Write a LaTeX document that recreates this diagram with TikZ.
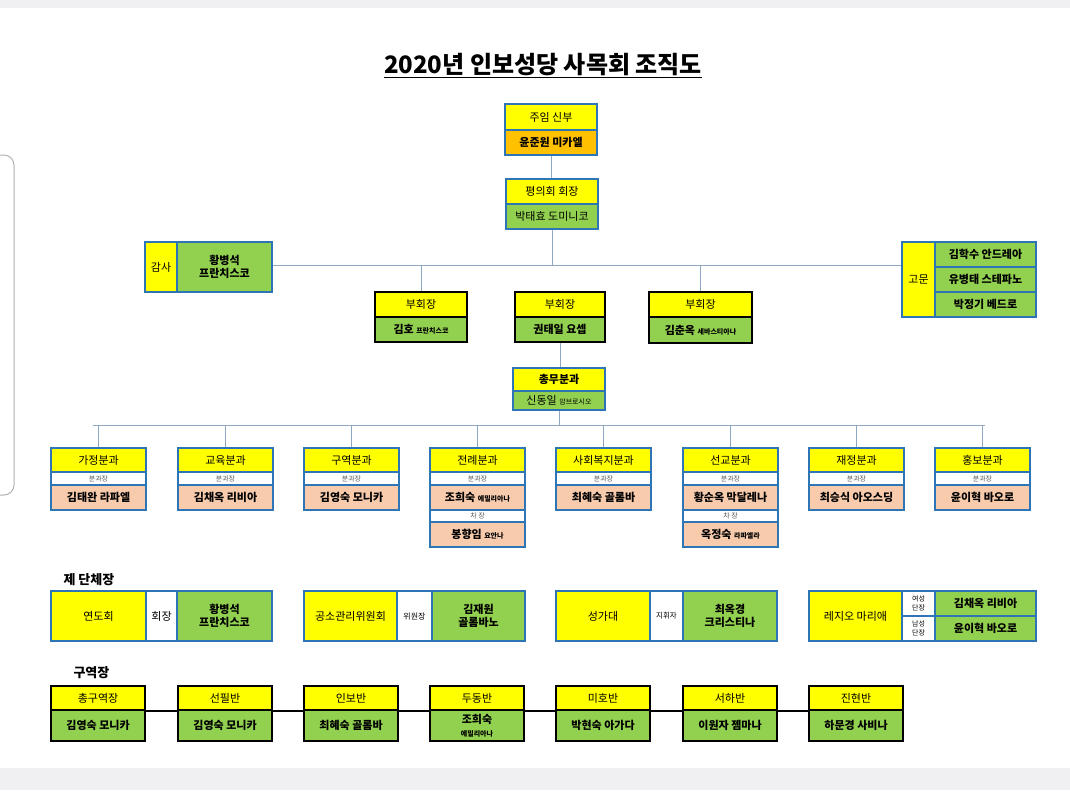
\documentclass[tikz,border=0pt]{standalone}
\usepackage{fontspec}
\setmainfont{Noto Sans CJK KR}
\usetikzlibrary{fit}
\definecolor{cy}{HTML}{FFFF00}
\definecolor{cg}{HTML}{92D050}
\definecolor{cp}{HTML}{F8CBAD}
\definecolor{co}{HTML}{FFC000}
\definecolor{cb}{HTML}{2E75B6}
\definecolor{cl}{HTML}{8FA9C4}
\definecolor{bgg}{HTML}{F0F0F2}
\newcommand\bx[8][]{\node[cell,fill=#7,fit={(#3,#4)(#5,#6)},#1] (#2) {}; \node[txt,#1,draw=none,fill=none] (#2t) at (#2.center) {#8};}
\begin{document}
\begin{tikzpicture}[x=1pt,y=-1pt,
  cell/.style={draw=cb,line width=1.3pt,inner sep=0pt},
  txt/.style={inner sep=0pt,font=\fontsize{11}{12}\selectfont,align=center},
  blk/.style={draw=black,line width=1.6pt},
  nm/.style={font=\bfseries\fontsize{11}{12.5}\selectfont},
  sm/.style={font=\fontsize{7}{8}\selectfont,text=black!65},
  conn/.style={draw=cl,line width=0.9pt}]
\useasboundingbox (0,0) rectangle (1070,790);
\fill[bgg] (0,0) rectangle (1070,790);
\fill[white] (0,8) rectangle (1070,768);
\draw[black!30,line width=1pt,rounded corners=10pt] (-20,155) rectangle (14,495);
\node[font=\bfseries\fontsize{24}{28}\selectfont] (title) at (543,66) {\underline{2020년 인보성당 사목회 조직도}};
% top
\bx{pa}{505}{104}{597}{130}{cy}{주임 신부}
\bx[nm]{pb}{505}{130}{597}{155}{co}{윤준원 미카엘}
\bx{ca}{506}{179}{598}{204}{cy}{평의회 회장}
\bx{cbx}{506}{204}{598}{229}{cg}{박태효 도미니코}
\coordinate (hl) at (272,265); \coordinate (hr) at (902,265);
\draw[conn] (pb.south) -- (pb.south |- ca.north);
\draw[conn] (hl) -- (hr);
\draw[conn] (cbx.south) -- (cbx.south |- hl);
% gamsa
\bx{ga}{145}{242}{177}{292}{cy}{감사}
\bx[nm]{gb}{177}{242}{272}{292}{cg}{황병석\\프란치스코}
% gomun
\bx{gm}{902}{242}{935}{317}{cy}{고문}
\bx[nm]{g1}{935}{242}{1036}{267}{cg}{김학수 안드레아}
\bx[nm]{g2}{935}{267}{1036}{292}{cg}{유병태 스테파노}
\bx[nm]{g3}{935}{292}{1036}{317}{cg}{박정기 베드로}
% vice
\bx[blk]{v1a}{375}{292}{467}{317}{cy}{부회장}
\bx[blk,nm]{v1b}{375}{317}{467}{342}{cg}{김호 {\fontsize{7}{8}\selectfont 프란치스코}}
\bx[blk]{v2a}{515}{292}{605}{317}{cy}{부회장}
\bx[blk,nm]{v2b}{515}{317}{605}{342}{cg}{권태일 요셉}
\bx[blk]{v3a}{649}{292}{752}{317}{cy}{부회장}
\bx[blk,nm]{v3b}{649}{317}{752}{343}{cg}{김춘옥 {\fontsize{7}{8}\selectfont 세바스티아나}}
\draw[conn] (v1a.north |- hl) -- (v1a.north);
\draw[conn] (v3a.north |- hl) -- (v3a.north);
% chongmu
\bx[nm]{ta}{513}{368}{605}{391}{cy}{총무분과}
\bx{tb}{513}{391}{605}{410}{cg}{신동일 {\fontsize{7}{8}\selectfont 암브로시오}}
\draw[conn] (v2b.south) -- (v2b.south |- ta.north);
\coordinate (bl) at (93,425); \coordinate (br) at (985,425);
\draw[conn] (tb.south) -- (tb.south |- bl);
\draw[conn] (bl) -- (br);
% bungwa
\foreach \n/\x/\t/\p in {a/51/가정분과/김태완 라파엘,b/178/교육분과/김채옥 리비아,c/304/구역분과/김영숙 모니카,d/430/전례분과/조희숙 {\fontsize{7}{8}\selectfont 에밀리아나},e/556/사회복지분과/최혜숙 골롬바,f/683/선교분과/황순옥 막달레나,g/809/재정분과/최승식 아오스딩,h/935/홍보분과/윤이혁 바오로}{
  \bx{b\n1}{\x}{448}{\x+95}{472}{cy}{\t}
  \bx[sm]{b\n2}{\x}{472}{\x+95}{485}{white}{분과장}
  \bx[nm]{b\n3}{\x}{485}{\x+95}{510}{cp}{\p}
  \draw[conn] (b\n1.north) -- (b\n1.north |- bl);
}
\bx[sm]{bd4}{430}{510}{525}{522}{white}{차 장}
\bx[nm]{bd5}{430}{522}{525}{547}{cp}{봉향임 {\fontsize{7}{8}\selectfont 요안나}}
\bx[sm]{bf4}{683}{510}{778}{522}{white}{차 장}
\bx[nm]{bf5}{683}{522}{778}{547}{cp}{옥정숙 {\fontsize{7}{8}\selectfont 라파엘라}}
% dancheh
\node[anchor=west,font=\bfseries\fontsize{13}{15}\selectfont] (lab1) at (60,580) {제 단체장};
\bx{d1a}{51}{591}{146}{641}{cy}{연도회}
\bx{d1b}{146}{591}{177}{641}{white}{회장}
\bx[font=\fontsize{8}{9}\selectfont]{d2b}{397}{591}{432}{641}{white}{위원장}
\bx[nm]{d1c}{177}{591}{272}{641}{cg}{황병석\\프란치스코}
\bx{d2a}{304}{591}{397}{641}{cy}{공소관리위원회}
\bx[nm]{d2c}{432}{591}{525}{641}{cg}{김재원\\골롬바노}
\bx{d3a}{556}{591}{650}{641}{cy}{성가대}
\bx[font=\fontsize{7.5}{9}\selectfont]{d3b}{650}{591}{683}{641}{white}{지휘자}
\bx[nm]{d3c}{683}{591}{777}{641}{cg}{최옥경\\크리스티나}
\bx{d4a}{809}{591}{902}{641}{cy}{레지오 마리애}
\bx[font=\fontsize{7}{8.5}\selectfont]{d4b}{902}{591}{935}{616}{white}{여성\\단장}
\bx[font=\fontsize{7}{8.5}\selectfont]{d4c}{902}{616}{935}{641}{white}{남성\\단장}
\bx[nm]{d4d}{935}{591}{1036}{616}{cg}{김채옥 리비아}
\bx[nm]{d4e}{935}{616}{1036}{641}{cg}{윤이혁 바오로}
% guyeok
\node[anchor=west,font=\bfseries\fontsize{13}{15}\selectfont] (lab2) at (70,673) {구역장};
\foreach \n/\x/\t/\p in {1/51/총구역장/김영숙 모니카,2/178/선필반/김영숙 모니카,3/304/인보반/최혜숙 골롬바,4/430/두동반/{조희숙\\{\fontsize{7}{8}\selectfont 에밀리아나}},5/556/미호반/박현숙 아가다,6/683/서하반/이원자 젬마나,7/809/진현반/하문경 사비나}{
  \bx[blk]{k\n a}{\x}{686}{\x+94}{710}{cy}{\t}
  \bx[blk,nm]{k\n b}{\x}{710}{\x+94}{741}{cg}{\p}
}
\foreach \a/\b in {1/2,2/3,3/4,4/5,5/6,6/7}{
  \draw[black,line width=1.6pt] (k\a a.south east) -- (k\b a.south west);
}
\end{tikzpicture}
\end{document}
